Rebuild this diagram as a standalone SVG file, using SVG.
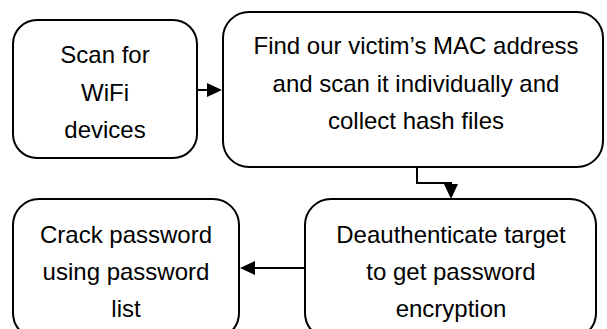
<svg xmlns="http://www.w3.org/2000/svg" width="607" height="329" viewBox="0 0 607 329">
<style>
.box{fill:#fff;stroke:#000;stroke-width:2}
.lbl{font-family:"Liberation Sans",Arial,sans-serif;font-size:24px;fill:#000;text-anchor:middle}
.conn{fill:none;stroke:#000;stroke-width:2}
</style>
<defs>
<marker id="ah" markerUnits="userSpaceOnUse" markerWidth="15" markerHeight="15" refX="7" refY="7.5" orient="auto">
<path d="M0,0.5 L15,7.5 L0,14.5 z" fill="#000"/>
</marker>
</defs>
<rect width="607" height="329" fill="#fff"/>
<g id="n1">
<rect class="box" x="13" y="20" width="184" height="138" rx="24" ry="24"/>
<text class="lbl" x="105" y="63">Scan for</text>
<text class="lbl" x="105" y="101">WiFi</text>
<text class="lbl" x="105" y="138">devices</text>
</g>
<g id="n2">
<rect class="box" x="223" y="12" width="380" height="155" rx="26" ry="26"/>
<text class="lbl" x="416" y="54">Find our victim’s MAC address</text>
<text class="lbl" x="416" y="92">and scan it individually and</text>
<text class="lbl" x="416" y="129">collect hash files</text>
</g>
<g id="n3">
<rect class="box" x="13" y="199" width="226" height="140" rx="26" ry="26"/>
<text class="lbl" x="126" y="243">Crack password</text>
<text class="lbl" x="126" y="280">using password</text>
<text class="lbl" x="126" y="317">list</text>
</g>
<g id="n4">
<rect class="box" x="305" y="199" width="291" height="140" rx="26" ry="26"/>
<text class="lbl" x="451" y="243">Deauthenticate target</text>
<text class="lbl" x="451" y="280">to get password</text>
<text class="lbl" x="451" y="317">encryption</text>
</g>
<g id="connectors">
<path class="conn" d="M197,90 L214,90" marker-end="url(#ah)"/>
<path class="conn" d="M417,167 L417,183 L451,183 L451,191" marker-end="url(#ah)"/>
<path class="conn" d="M305,268 L248,268" marker-end="url(#ah)"/>
</g>
</svg>
